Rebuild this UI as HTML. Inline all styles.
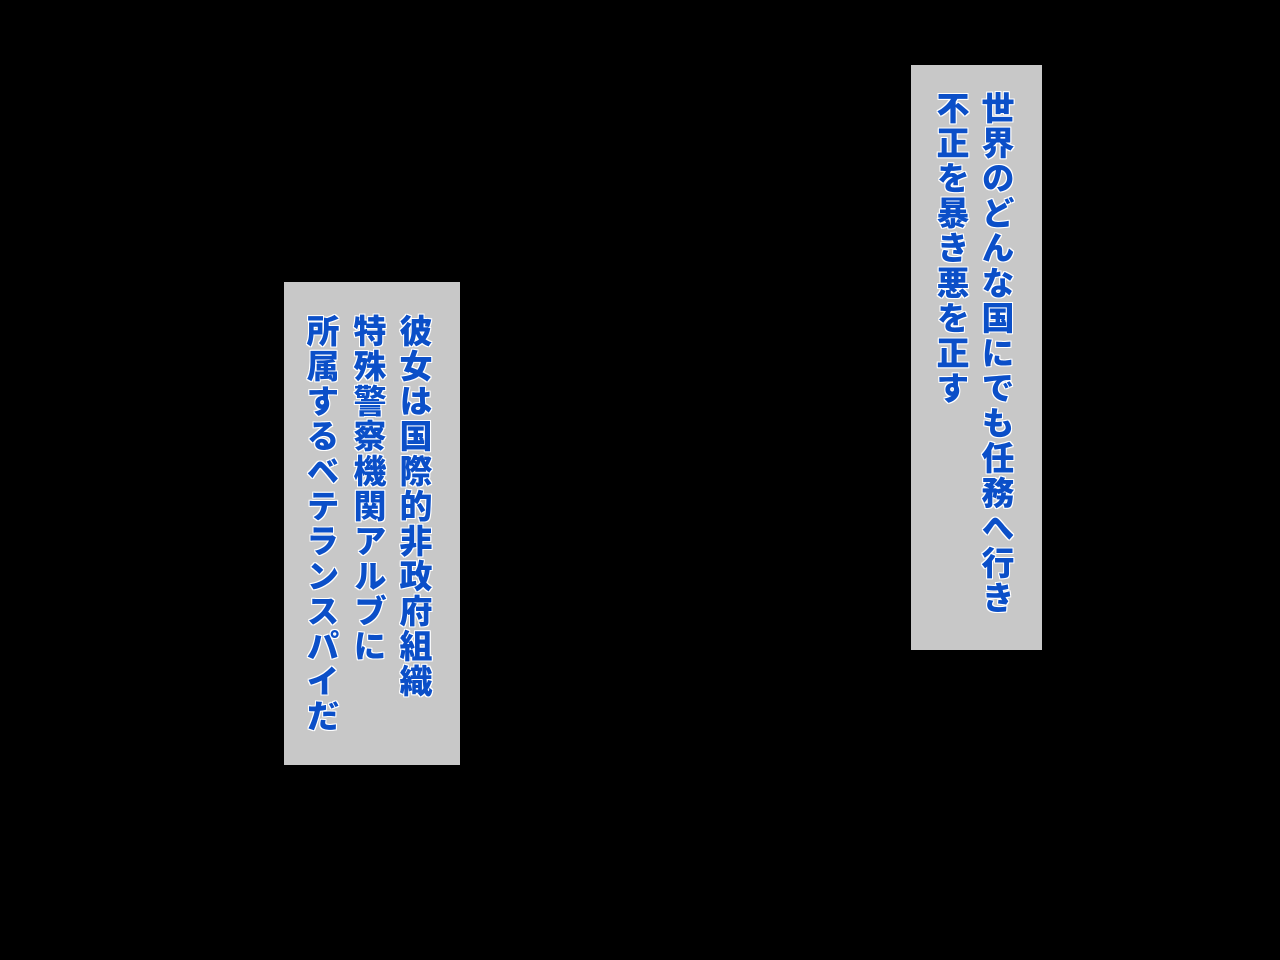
<!DOCTYPE html>
<html><head><meta charset="utf-8"><style>
html,body{margin:0;padding:0;background:#000;width:1280px;height:960px;overflow:hidden;position:relative}
.box{position:absolute;background:#c8c8c8}
.col{position:absolute;writing-mode:vertical-rl;font-family:"Noto Sans CJK JP",sans-serif;font-weight:900;font-size:33px;line-height:36px;width:36px;letter-spacing:2px;color:#0b4fc8;-webkit-text-stroke:0;text-shadow:1px 1px 0 #fff,-1px -1px 0 #fff,1px -1px 0 #fff,-1px 1px 0 #fff,0 1px 0 #fff,0 -1px 0 #fff,1px 0 0 #fff,-1px 0 0 #fff;white-space:nowrap}
</style></head><body>
<div class="box" style="left:911px;top:65px;width:131px;height:585px"></div>
<div class="col" style="left:980px;top:91px">世界のどんな国にでも任務へ行き</div>
<div class="col" style="left:935px;top:91px">不正を暴き悪を正す</div>
<div class="box" style="left:284px;top:282px;width:176px;height:483px"></div>
<div class="col" style="left:398px;top:314px">彼女は国際的非政府組織</div>
<div class="col" style="left:352px;top:314px">特殊警察機関アルブに</div>
<div class="col" style="left:305px;top:314px">所属するベテランスパイだ</div>
</body></html>
